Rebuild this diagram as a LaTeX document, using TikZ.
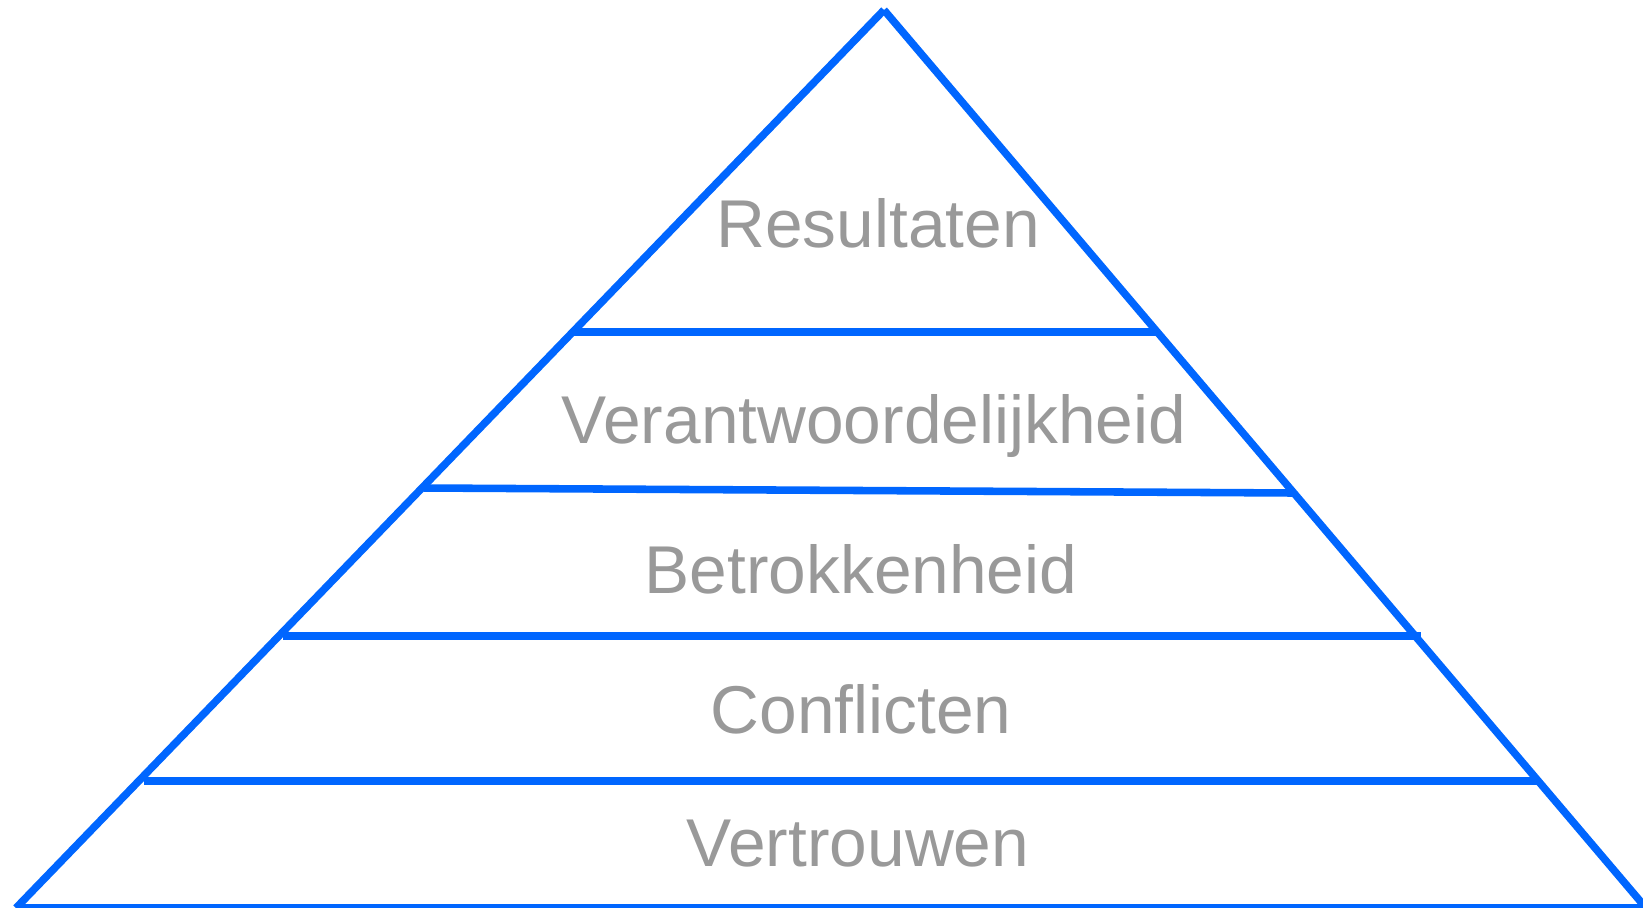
\documentclass[tikz,border=0pt]{standalone}
\usepackage{fontspec}
\setmainfont{Liberation Sans}
\definecolor{pyrblue}{HTML}{0066FF}
\definecolor{pyrgray}{HTML}{999999}
\begin{document}
\begin{tikzpicture}[x=0.02cm,y=-0.02cm,
    edge/.style={draw=pyrblue,line width=4.3pt},
    level/.style={text=pyrgray,font=\fontsize{38.5}{40}\selectfont,anchor=base,inner sep=0pt}]
  \useasboundingbox (0,0) rectangle (1643,908);
  \coordinate (top) at (884,10);
  \coordinate (bl) at (16,908);
  \coordinate (br) at (1646,908);
  \coordinate (be) at (1650,908);
  \coordinate (l1a) at (573,332);
  \coordinate (l1b) at (1157,332);
  \coordinate (l2a) at (424,488);
  \coordinate (l2b) at (1292,493);
  \coordinate (l3a) at (283,636);
  \coordinate (l3b) at (1421,636);
  \coordinate (l4a) at (144,781);
  \coordinate (l4b) at (1537,781);
  \draw
    (878,248) node[level] (res) {Resultaten}
    (874,444) node[level] (ver) {Verantwoordelijkheid}
    (861,593) node[level] (bet) {Betrokkenheid}
    (861,733) node[level] (con) {Conflicten}
    (858,866) node[level] (vtr) {Vertrouwen};
  \begin{scope}[edge]
    \draw (top) to (bl);
    \draw (top) to (br);
    \draw (bl) to (be);
    \draw (l1a) to (l1b);
    \draw (l2a) to (l2b);
    \draw (l3a) to (l3b);
    \draw (l4a) to (l4b);
  \end{scope}
\end{tikzpicture}
\end{document}
